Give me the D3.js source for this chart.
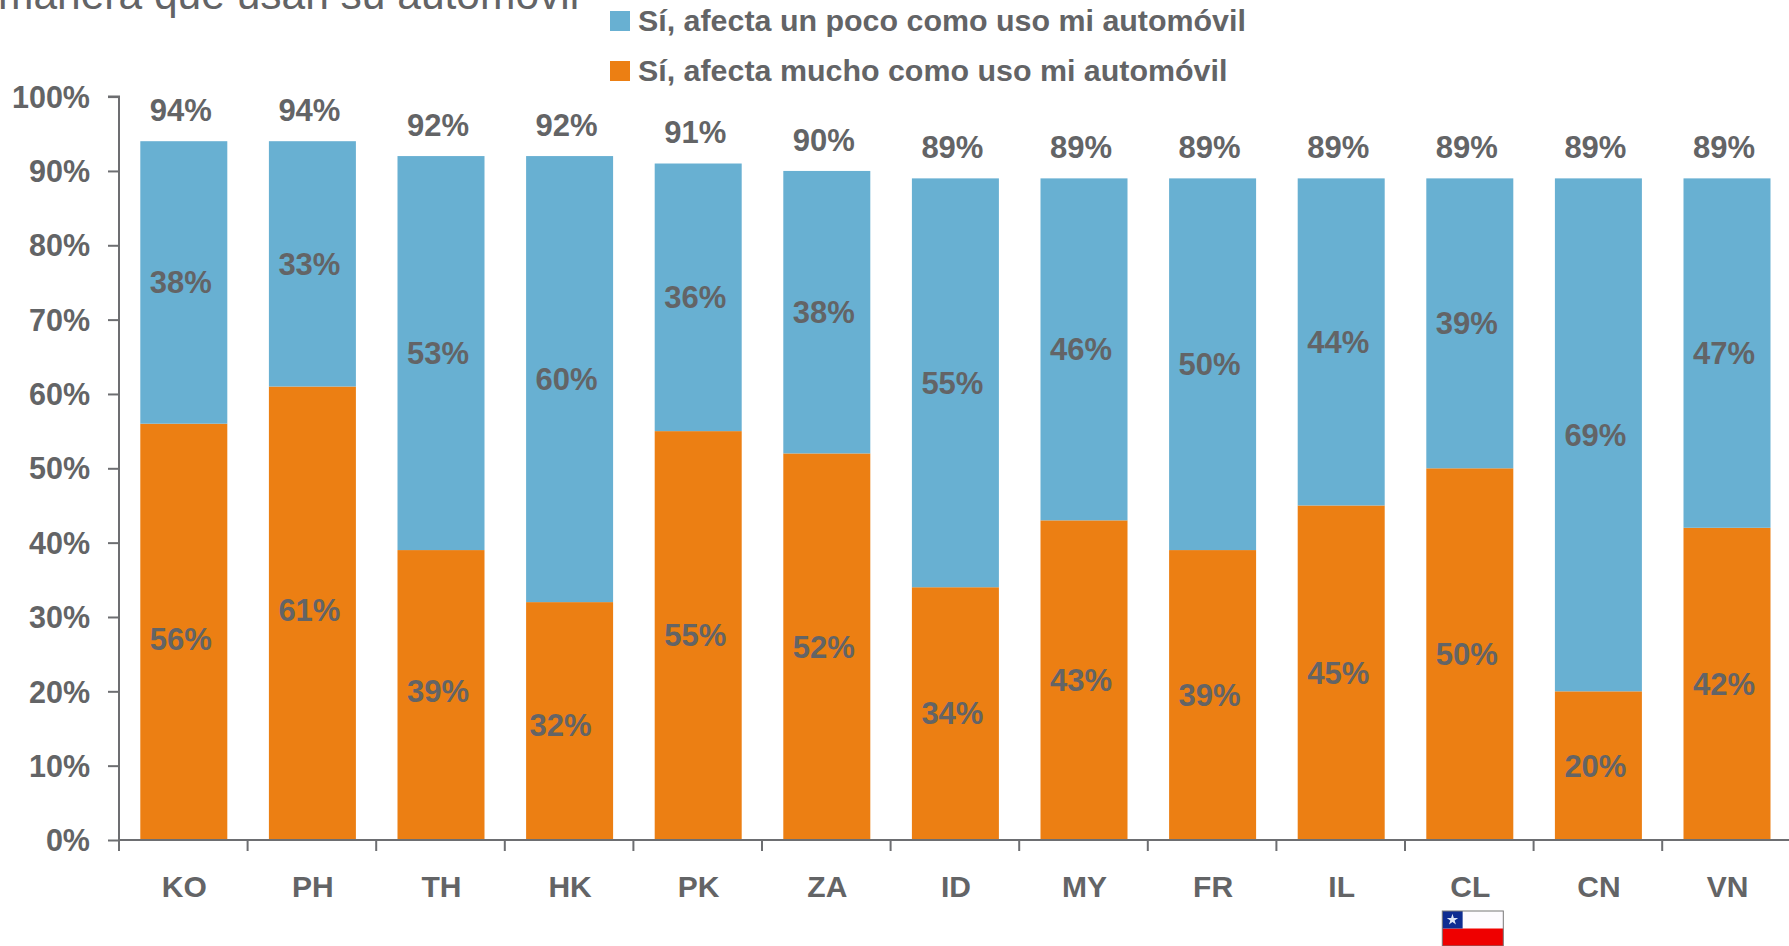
<!DOCTYPE html>
<html><head><meta charset="utf-8">
<script src="https://cdn.jsdelivr.net/npm/d3@7"></script>
<style>html,body{margin:0;padding:0;background:#fff;overflow:hidden}svg{display:block}text{font-family:"Liberation Sans",Arial,sans-serif}</style>
</head><body><svg id="c" width="1789" height="946"></svg>
<script>
const categories = ["KO","PH","TH","HK","PK","ZA","ID","MY","FR","IL","CL","CN","VN"];
const mucho = [56,61,39,32,55,52,34,43,39,45,50,20,42];
const poco  = [38,33,53,60,36,38,55,46,50,44,39,69,47];
const totals = [94,94,92,92,91,90,89,89,89,89,89,89,89];
const yTicks = [0,10,20,30,40,50,60,70,80,90,100];
const titleText = "manera que usan su automóvil";
const legendPoco = "Sí, afecta un poco como uso mi automóvil";
const legendMucho = "Sí, afecta mucho como uso mi automóvil";

const BLUE="#68b0d2", ORANGE="#ec7f13", TXT="#636466", AXIS="#6d6e71";
const svg=d3.select("#c");
const x=d3.scaleBand().domain(categories).range([119.5,119.5+13*128.6]).paddingInner(0.3235).paddingOuter(0.16175);
const y=d3.scaleLinear().domain([0,100]).range([840,96.6]);
const stack=d3.stack().keys(["mucho","poco"])(categories.map((c,i)=>({c,mucho:mucho[i],poco:poco[i]})));
const colors={mucho:ORANGE,poco:BLUE};
stack.forEach(s=>{
  svg.append("g").selectAll("rect").data(s).join("rect")
    .attr("x",d=>x(d.data.c)).attr("width",x.bandwidth())
    .attr("y",d=>y(d[1])).attr("height",d=>y(d[0])-y(d[1]))
    .attr("fill",colors[s.key]);
});
// axes
const yAxis=svg.append("g").attr("transform","translate(119,0)")
  .call(d3.axisLeft(y).tickValues(yTicks).tickSize(11).tickFormat(d=>d+"%"));
yAxis.select(".domain").attr("stroke",AXIS).attr("stroke-width",2).attr("d",`M-11,${y(100)}H0V${y(0)}`);
yAxis.selectAll("line").attr("stroke",AXIS).attr("stroke-width",2);
yAxis.selectAll("text").attr("x",-29).attr("dy","0.35em").attr("fill",TXT)
  .style("font-size","30.5px").style("font-weight","bold").style("font-family",'"Liberation Sans",Arial,sans-serif');
const xAxis=svg.append("g").attr("transform",`translate(0,${y(0)})`)
  .call(d3.axisBottom(x).tickSize(0).tickPadding(0));
xAxis.select(".domain").attr("stroke",AXIS).attr("stroke-width",2).attr("d",`M119,0H1789`);
xAxis.selectAll("text").attr("y",46).attr("dy","0.35em").attr("dx",0.5).attr("fill",TXT)
  .style("font-size","30px").style("font-weight","bold").style("font-family",'"Liberation Sans",Arial,sans-serif');
const step=x.step();
svg.append("g").selectAll("line").data(categories.concat(["end"])).join("line")
  .attr("x1",(d,i)=>119+i*step).attr("x2",(d,i)=>119+i*step)
  .attr("y1",y(0)).attr("y2",y(0)+11).attr("stroke",AXIS).attr("stroke-width",2);
// data labels
function label(g,t,px,py){g.append("text").attr("x",px).attr("y",py).attr("dy","0.35em").attr("text-anchor","middle")
  .attr("fill",TXT).style("font-size","31px").style("font-weight","bold").text(t);}
const g=svg.append("g");
const nudgeMucho={KO:7,PH:-3,TH:-4,HK:4};
const nudgeDx={HK:-6};
categories.forEach((c,i)=>{
  const cx=x(c)+x.bandwidth()/2-3;
  label(g,totals[i]+"%",cx,y(totals[i])-31);
  label(g,poco[i]+"%",cx,(y(mucho[i])+y(mucho[i]+poco[i]))/2);
  label(g,mucho[i]+"%",cx+(nudgeDx[c]||0),(y(0)+y(mucho[i]))/2+(nudgeMucho[c]||0));
});
// title clipped by the top edge, as in the reference
svg.append("text").attr("x",-2).attr("y",9).attr("fill",TXT).style("font-size","42.5px").text(titleText);
// legend
[[legendPoco,BLUE,21],[legendMucho,ORANGE,71]].forEach(([t,col,cy])=>{
  svg.append("rect").attr("x",610).attr("y",cy-10).attr("width",20).attr("height",20).attr("fill",col);
  svg.append("text").attr("x",638).attr("y",cy-0.5).attr("dy","0.35em").attr("fill",TXT)
    .style("font-size","30.4px").style("font-weight","bold").text(t);
});
// Chilean flag under CL
const fx=x("CL")+x.bandwidth()/2+2.5-30, fy=911, fw=61, fh=35;
const fg=svg.append("g").attr("transform",`translate(${fx},${fy})`);
fg.append("rect").attr("width",fw).attr("height",fh/2).attr("fill","#fdfbff");
fg.append("rect").attr("y",fh/2).attr("width",fw).attr("height",fh/2).attr("fill","#ef0000");
fg.append("rect").attr("width",fw/3).attr("height",fh/2).attr("fill","#0f2d92");
fg.append("path").attr("d",d3.symbol(d3.symbolStar,40)()).attr("transform",`translate(${fw/6},${fh/4})`).attr("fill","#dfe6f5");
fg.append("rect").attr("width",fw).attr("height",fh).attr("fill","none").attr("stroke","#777").attr("stroke-width",1);
</script></body></html>
